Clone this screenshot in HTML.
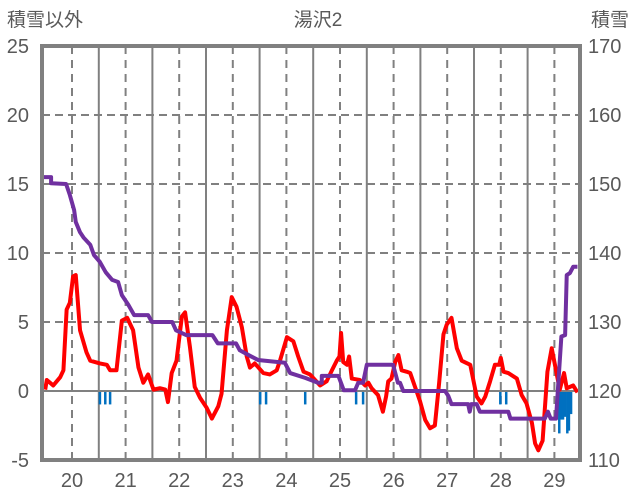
<!DOCTYPE html>
<html><head><meta charset="utf-8">
<style>
html,body{margin:0;padding:0;background:#fff;}
svg{display:block;font-family:"Liberation Sans","Noto Sans CJK JP",sans-serif;}
</style></head>
<body>
<svg id="chart" width="636" height="501" viewBox="0 0 636 501">
<text x="45" y="26" font-size="19" fill="#595959" text-anchor="middle">積雪以外</text>
<text x="318" y="26" font-size="19" fill="#595959" text-anchor="middle">湯沢2</text>
<text x="610" y="26" font-size="19" fill="#595959" text-anchor="middle">積雪</text>
<g id="grid"></g>
<g id="bars"></g>
<g id="lines"></g>
<rect x="42" y="46" width="538" height="414" fill="none" stroke="#808080" stroke-width="4"/>
<g id="labels"></g>
</svg>
<script>
const leftTicks=[-5,0,5,10,15,20,25];
const rightTicks=[110,120,130,140,150,160,170];
const dayLabels=[20,21,22,23,24,25,26,27,28,29];
const redT=[19.50,19.53,19.65,19.78,19.84,19.90,19.96,20.02,20.07,20.15,20.27,20.34,20.52,20.65,20.71,20.83,20.93,21.03,21.14,21.24,21.33,21.42,21.52,21.64,21.74,21.79,21.86,21.95,22.05,22.11,22.20,22.29,22.39,22.51,22.61,22.73,22.79,22.89,22.98,23.07,23.17,23.26,23.32,23.41,23.57,23.69,23.82,23.88,24.01,24.13,24.22,24.32,24.44,24.63,24.75,24.85,24.94,24.99,25.02,25.06,25.13,25.17,25.22,25.37,25.47,25.53,25.59,25.71,25.80,25.86,25.90,25.96,26.03,26.09,26.15,26.24,26.31,26.40,26.49,26.59,26.68,26.77,26.85,26.93,26.99,27.08,27.18,27.27,27.43,27.55,27.64,27.71,27.80,27.89,27.97,28.00,28.05,28.14,28.30,28.39,28.48,28.58,28.64,28.70,28.78,28.87,28.95,29.04,29.10,29.18,29.23,29.29,29.35,29.43];
const redV=[0.1,0.8,0.4,1.0,1.5,5.9,6.4,8.3,8.4,4.4,2.8,2.2,2.0,1.9,1.5,1.5,5.1,5.3,4.4,1.7,0.6,1.2,0.1,0.2,0.1,-0.8,1.3,2.2,5.4,5.7,3.2,0.3,-0.5,-1.2,-2.0,-1.1,-0.2,4.4,6.8,6.1,4.6,2.5,1.7,2.0,1.3,1.2,1.5,2.2,3.9,3.6,2.5,1.4,1.2,0.4,0.7,1.5,2.2,2.5,4.2,2.1,1.9,2.5,0.9,0.8,0.4,0.6,0.2,-0.3,-1.5,-0.4,0.7,0.9,2.1,2.6,1.5,1.4,1.3,0.3,-0.7,-2.1,-2.7,-2.5,0.6,4.1,4.8,5.3,3.1,2.2,1.9,-0.4,-0.9,-0.4,0.7,1.9,1.9,2.4,1.4,1.3,0.9,-0.3,-0.9,-2.3,-3.8,-4.3,-3.6,1.4,3.1,1.3,0.1,1.3,0.2,0.3,0.4,-0.1];
const snowT=[19.45,19.61,19.61,19.89,19.96,20.04,20.07,20.15,20.22,20.34,20.41,20.52,20.63,20.75,20.86,20.93,21.05,21.16,21.42,21.49,21.87,21.94,22.13,22.62,22.72,23.06,23.13,23.32,23.47,23.97,24.07,24.35,24.59,24.66,24.66,24.97,25.07,25.28,25.34,25.43,25.50,25.99,26.08,26.12,26.18,26.96,27.02,27.08,27.39,27.42,27.45,27.55,27.61,28.14,28.18,28.82,28.88,28.93,29.03,29.13,29.20,29.23,29.29,29.35,29.43];
const snowV=[151.0,151.0,150.1,150.0,148.4,146.2,144.5,143.0,142.2,141.2,139.7,138.7,137.2,136.1,135.8,133.9,132.5,131.0,131.0,130.0,130.0,128.8,128.1,128.1,126.9,126.9,125.9,125.1,124.5,124.1,122.6,121.9,121.2,121.2,122.2,122.2,120.1,120.1,121.2,121.2,123.8,123.8,121.2,121.2,120.0,120.0,119.3,118.1,118.1,117.0,118.1,118.1,117.0,117.0,116.0,116.0,117.0,116.0,116.0,127.9,128.1,136.8,137.1,138.0,138.0];
const barT=[20.52,20.62,20.71,23.51,23.62,24.35,25.30,25.43,27.99,28.10,29.09,29.12,29.16,29.20,29.24,29.27,29.31];
const barV=[-0.9,-0.9,-0.9,-0.9,-0.9,-0.9,-0.9,-0.9,-0.9,-0.9,-3.0,-2.0,-2.0,-1.8,-3.0,-2.8,-1.6];

const NS='http://www.w3.org/2000/svg';
const L=42,R=580,T=46,B=460;
const xs=t=>72+(t-20)*53.6;
const yl=v=>T+(25-v)*(B-T)/30;
const yr=v=>T+(170-v)*(B-T)/60;
function mk(tag,attrs,parent){const e=document.createElementNS(NS,tag);for(const k in attrs)e.setAttribute(k,attrs[k]);document.getElementById(parent).appendChild(e);return e;}

leftTicks.forEach((v,i)=>{
  const y=yl(v);
  if(v>0&&v<25){const g=mk('line',{x1:L,x2:R,y1:y,y2:y,stroke:'#808080','stroke-width':2,'stroke-dasharray':'8,5'},'grid');
  
  }
  if(v===0){const z=mk('line',{x1:L,x2:R,y1:y,y2:y,stroke:'#808080','stroke-width':2},'grid');
  
  }
  const t=mk('text',{x:29,y:y+7,'font-size':20,fill:'#595959','text-anchor':'end'},'labels');t.textContent=v;
  
  
  const t2=mk('text',{x:588,y:yr(rightTicks[i])+7,'font-size':20,fill:'#595959'},'labels');t2.textContent=rightTicks[i];
  
  
});
dayLabels.forEach(d=>{
  const x=xs(d);
  const g=mk('line',{x1:x,x2:x,y1:T,y2:B,stroke:'#808080','stroke-width':2,'stroke-dasharray':'8,6'},'grid');
  
  
  const xb=xs(d+0.5);
  if(xb<R){const s=mk('line',{x1:xb,x2:xb,y1:T,y2:B,stroke:'#808080','stroke-width':2},'grid');
  
  }
  const t=mk('text',{x:x,y:487,'font-size':20,fill:'#595959','text-anchor':'middle'},'labels');t.textContent=d;
  
  
});
barT.forEach((t,i)=>{
  const y0=yl(0),y1=yl(barV[i]);
  const b=mk('rect',{x:xs(t)-1.2,y:Math.min(y0,y1)+1,width:2.5,height:Math.abs(y1-y0),fill:'#0070C0'},'bars');
  
  
});
const rp=mk('polyline',{points:redT.map((t,i)=>xs(t)+','+yl(redV[i])).join(' '),fill:'none',stroke:'#FF0000','stroke-width':4,'stroke-linejoin':'round'},'lines');


const pp=mk('polyline',{points:snowT.map((t,i)=>xs(t)+','+yr(snowV[i])).join(' '),fill:'none',stroke:'#7030A0','stroke-width':4,'stroke-linejoin':'round'},'lines');


</script>
</body></html>
